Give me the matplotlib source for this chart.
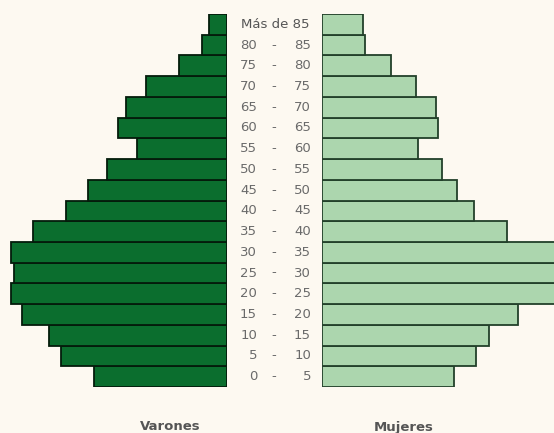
import numpy as np
import matplotlib
matplotlib.use("Agg")
import matplotlib.pyplot as plt
from matplotlib.transforms import blended_transform_factory

# grupos de edad, de abajo hacia arriba
edad_desde = ["0", "5", "10", "15", "20", "25", "30", "35", "40",
              "45", "50", "55", "60", "65", "70", "75", "80"]
edad_hasta = ["5", "10", "15", "20", "25", "30", "35", "40", "45",
              "50", "55", "60", "65", "70", "75", "80", "85"]
ultimo_grupo = "Más de 85"

varones = [133, 166, 178, 205, 216, 213, 216, 194, 161,
           139, 120, 90, 109, 101, 81, 48, 25, 18]
mujeres = [132, 154, 167, 196, 236, 234, 236, 185, 152,
           135, 120, 96, 116, 114, 94, 69, 43, 41]

fondo = "#fdf9f1"
verde_osc = "#0b6e2e"
verde_cla = "#acd6ae"
gris = "#6a6a6a"

W, H = 554, 433
fig = plt.figure(figsize=(W / 100, H / 100), dpi=100, facecolor=fondo)

y = np.arange(len(varones))
bot = (H - 387) / H
alto = (387 - 14) / H

ax_v = fig.add_axes([0, bot, 227 / W, alto])
ax_v.barh(y, varones, height=1.0, color=verde_osc, edgecolor="#041c0b", linewidth=1.3)
ax_v.set_xlim(227, 0)

ax_m = fig.add_axes([322 / W, bot, 232 / W, alto])
ax_m.barh(y, mujeres, height=1.0, color=verde_cla, edgecolor="#22402a", linewidth=1.3)
ax_m.set_xlim(0, 232)

for ax in (ax_v, ax_m):
    ax.set_ylim(-0.5, len(varones) - 0.5)
    ax.set_facecolor(fondo)
    ax.axis("off")

# etiquetas centrales: x en figura, y en filas
bt = blended_transform_factory(fig.transFigure, ax_v.transData)
fs = 9.5
for i in range(len(edad_desde)):
    fig.text(257 / W, y[i], edad_desde[i], ha="right", va="center", fontsize=fs,
             color=gris, transform=bt)
    fig.text(274 / W, y[i], "-", ha="center", va="center", fontsize=fs,
             color=gris, transform=bt)
    fig.text(311 / W, y[i], edad_hasta[i], ha="right", va="center", fontsize=fs,
             color=gris, transform=bt)
fig.text(275 / W, y[-1], ultimo_grupo, ha="center", va="center", fontsize=fs,
         color="#555555", transform=bt)

fig.text(170 / W, 1 - 427 / H, "Varones", ha="center", va="center",
         fontsize=9.5, fontweight="bold", color="#555555")
fig.text(404 / W, 1 - 427 / H, "Mujeres", ha="center", va="center",
         fontsize=9.5, fontweight="bold", color="#555555")

fig.savefig("out.png", dpi=100, facecolor=fondo)
